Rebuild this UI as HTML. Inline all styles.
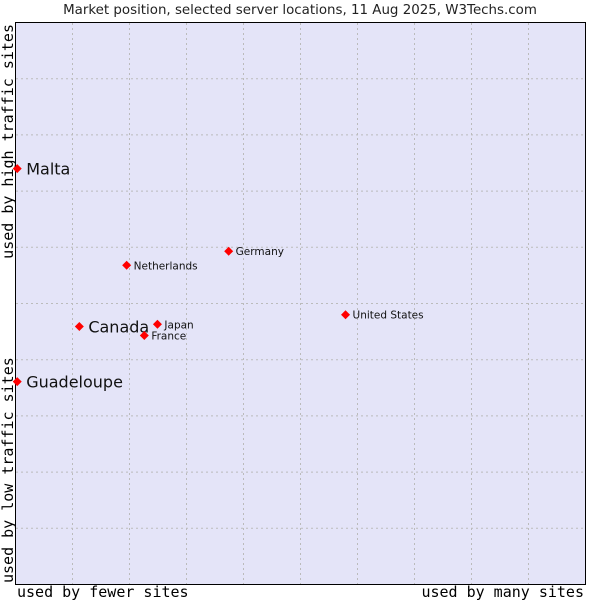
<!DOCTYPE html>
<html><head><meta charset="utf-8"><style>
body{margin:0;background:#fff;width:600px;height:600px;overflow:hidden}
svg text{font-family:"DejaVu Sans","Liberation Sans",sans-serif}
</style></head><body>
<svg id="c" width="600" height="600">
<text x="300" y="14" text-anchor="middle" font-size="13.4" fill="#222">Market position, selected server locations, 11 Aug 2025, W3Techs.com</text>
<rect x="15.5" y="22.5" width="570" height="562" fill="#e4e4f8" stroke="#000"/>
<g id="grid"></g>
<g id="pts"></g>
<text x="17" y="597" font-size="15" fill="#000" style="font-family:'DejaVu Sans Mono',monospace">used by fewer sites</text>
<text x="584" y="597" text-anchor="end" font-size="15" fill="#000" style="font-family:'DejaVu Sans Mono',monospace">used by many sites</text>
<text transform="translate(13,583) rotate(-90)" font-size="15" fill="#000" style="font-family:'DejaVu Sans Mono',monospace">used by low traffic sites</text>
<text transform="translate(13,24) rotate(-90)" text-anchor="end" font-size="15" fill="#000" style="font-family:'DejaVu Sans Mono',monospace">used by high traffic sites</text>
</svg>
<script>
const names=["Malta","Guadeloupe","Canada","Netherlands","Germany","Japan","France","United States"];
const xVals=[0.03,0.03,1.12,1.95,3.74,2.49,2.26,5.79];
const yVals=[7.4,3.61,4.59,5.68,5.93,4.63,4.43,4.80];
const big=[true,true,true,false,false,false,false,false];
const X=v=>15.5+v*57, Y=v=>584.5-v*56.2;
const ns="http://www.w3.org/2000/svg";
const g=document.getElementById('grid'), p=document.getElementById('pts');
for(let i=1;i<10;i++){
  let l=document.createElementNS(ns,'line');
  
  
  l.setAttribute('x1',X(i));l.setAttribute('x2',X(i));l.setAttribute('y1',23);l.setAttribute('y2',584);
  l.setAttribute('stroke','#bbb');l.setAttribute('stroke-dasharray','2,3');g.appendChild(l);
  let h=document.createElementNS(ns,'line');
  
  
  h.setAttribute('x1',16);h.setAttribute('x2',585);h.setAttribute('y1',Y(i));h.setAttribute('y2',Y(i));
  h.setAttribute('stroke','#bbb');h.setAttribute('stroke-dasharray','2,3');g.appendChild(h);
}
names.forEach((n,i)=>{
  const x=X(xVals[i]),y=Y(yVals[i]);
  let d=document.createElementNS(ns,'path');
  
  
  d.setAttribute('d',`M${x} ${y-4.5}L${x+4.5} ${y}L${x} ${y+4.5}L${x-4.5} ${y}Z`);
  d.setAttribute('fill','#f00');p.appendChild(d);
  let t=document.createElementNS(ns,'text');
  
  
  t.setAttribute('x',x+(big[i]?9:7));t.setAttribute('y',y+(big[i]?6:4));
  t.setAttribute('font-size',big[i]?16:10.5);t.setAttribute('fill','#111');
  t.textContent=n;p.appendChild(t);
});
</script>
</body></html>
